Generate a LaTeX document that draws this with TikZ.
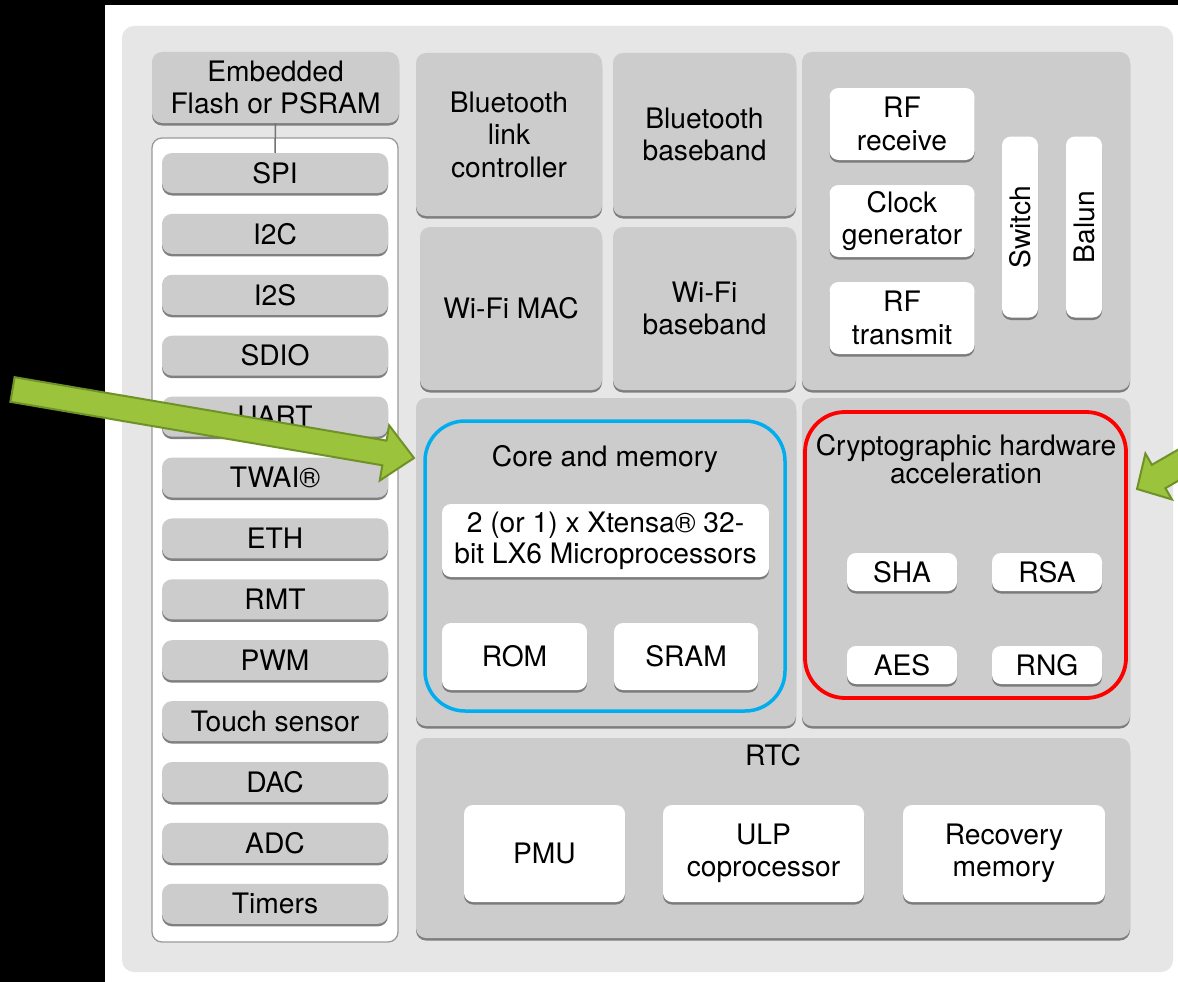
\documentclass[tikz,border=0pt]{standalone}
\usepackage{fontspec}
\setmainfont{TeX Gyre Heros}
\usetikzlibrary{calc,shadows}
\definecolor{outerbg}{HTML}{E6E6E6}
\definecolor{boxgray}{HTML}{CCCCCC}
\definecolor{cmblue}{HTML}{00AEEF}
\definecolor{cryred}{HTML}{FF0000}
\definecolor{arrgreen}{HTML}{9BC33C}
\definecolor{arredge}{HTML}{6F9128}
\definecolor{panelline}{HTML}{9A9A9A}
\begin{document}
\begin{tikzpicture}[x=1pt,y=-1pt,
  shd/.style={drop shadow={shadow xshift=0pt,shadow yshift=-2.5pt,fill=black!55,opacity=0.9}},
  lbl/.style={align=center,font=\fontsize{28.2}{32.5}\selectfont,inner sep=0pt,text=black},
  graybox/.style={lbl,fill=boxgray,rounded corners=10pt,shd},
  whitebox/.style={lbl,fill=white,rounded corners=9pt,shd},
  container/.style={fill=boxgray,rounded corners=10pt,shd,inner sep=0pt},
  sz/.style 2 args={minimum width=#1pt,minimum height=#2pt},
  greenarrow/.style={fill=arrgreen,draw=arredge,line width=2pt,line join=miter}
]
\useasboundingbox (0,0) rectangle (1178,982);
\clip (0,0) rectangle (1178,982);
% page background
\fill[white] (0,0) rectangle (1178,982);
\fill[black] (0,0) rectangle (105,982);
\fill[black] (0,0) rectangle (1178,5);
% chip outline
\node[fill=outerbg,rounded corners=12pt,inner sep=0pt,sz={1051}{946}] (chip) at (647.5,499) {};

% left column
\node[fill=white,draw=panelline,line width=1.3pt,rounded corners=10pt,inner sep=0pt,sz={246}{804}] (panel) at (275,540) {};
\node[graybox,sz={247}{71}] (emb) at (275.5,87.5) {Embedded\\Flash or PSRAM};
\foreach \t [count=\i from 0] in {SPI,I2C,I2S,SDIO,UART,TWAI®,ETH,RMT,PWM,Touch sensor,DAC,ADC,Timers}{
  \node[graybox,sz={226}{40}] (p\i) at (275,173+60.9*\i) {\t};
}
\draw[black!55,line width=1.5pt] (emb.south) -- (p0.north);

% wireless blocks
\node[graybox,sz={186}{163}] (btlc) at (509,134.5) {Bluetooth\\link\\controller};
\node[graybox,sz={183}{163}] (btbb) at (704.5,134.5) {Bluetooth\\baseband};
\node[graybox,sz={182}{163}] (wmac) at (511,308.5) {Wi-Fi MAC};
\node[graybox,sz={183}{163}] (wbb) at (704.5,308.5) {Wi-Fi\\baseband};

% RF block
\node[container,sz={328}{338}] (rf) at (966,221) {};
\node[whitebox,sz={145}{72}] (rfrx) at (902,124) {RF\\receive};
\node[whitebox,sz={145}{72}] (clk) at (902,221) {Clock\\generator};
\node[whitebox,sz={145}{72}] (rftx) at (902,318) {RF\\transmit};
\node[whitebox,sz={36}{181}] (sw) at (1020,227) {};
\node[lbl,rotate=90] (swt) at (sw.center) {Switch};
\node[whitebox,sz={36}{181}] (bal) at (1084,227) {};
\node[lbl,rotate=90] (balt) at (bal.center) {Balun};

% core and memory
\node[container,sz={380}{328}] (core) at (606,562) {};
\node[draw=cmblue,line width=3.5pt,rounded corners=40pt,inner sep=0pt,sz={360}{290}] (corehl) at (605,566) {};
\node[lbl,anchor=base] (corelbl) at (605,466) {Core and memory};
\node[whitebox,sz={327}{73},font=\fontsize{28.2}{31}\selectfont] (cpu) at (605.5,540.5) {2 (or 1) x Xtensa® 32-\\bit LX6 Microprocessors};
\node[whitebox,sz={145}{67}] (rom) at (514.5,656.5) {ROM};
\node[whitebox,sz={144}{67}] (sram) at (686,656.5) {SRAM};

% crypto
\node[container,sz={328}{328}] (cry) at (966,562) {};
\node[draw=cryred,line width=3.8pt,rounded corners=40pt,inner sep=0pt,sz={321}{286}] (cryhl) at (965.5,555) {};
\node[lbl,font=\fontsize{28.2}{26}\selectfont] (crylbl) at (966,459) {Cryptographic hardware\\acceleration};
\node[whitebox,sz={110}{38}] (sha) at (902,572) {SHA};
\node[whitebox,sz={110}{38}] (rsa) at (1047,572) {RSA};
\node[whitebox,sz={110}{38}] (aes) at (902,665) {AES};
\node[whitebox,sz={110}{38}] (rng) at (1047,665) {RNG};

% RTC
\node[container,sz={714}{200}] (rtc) at (773,838) {};
\node[lbl] (rtclbl) at (773,755) {RTC};
\node[whitebox,sz={161}{97}] (pmu) at (544.5,853.5) {PMU};
\node[whitebox,sz={201}{97}] (ulp) at (763.5,853.5) {ULP\\coprocessor};
\node[whitebox,sz={202}{97}] (rec) at (1004,853.5) {Recovery\\memory};

% green arrows
\coordinate (lt) at (12.5,389.5);
\coordinate (lp) at (414,458);
\coordinate (lb) at ($(lp)!30pt!(lt)$);
\draw[greenarrow] ($(lt)!12.5pt!90:(lp)$) -- ($(lb)!12.5pt!90:(lp)$) -- ($(lb)!28pt!90:(lp)$) -- (lp)
  -- ($(lb)!28pt!-90:(lp)$) -- ($(lb)!12.5pt!-90:(lp)$) -- ($(lt)!12.5pt!-90:(lp)$) -- cycle;
\coordinate (rt) at (1310,389);
\coordinate (rp) at (1137,489);
\coordinate (rb) at ($(rp)!25pt!(rt)$);
\draw[greenarrow] ($(rt)!13.5pt!90:(rp)$) -- ($(rb)!13.5pt!90:(rp)$) -- ($(rb)!26.5pt!90:(rp)$) -- (rp)
  -- ($(rb)!26.5pt!-90:(rp)$) -- ($(rb)!13.5pt!-90:(rp)$) -- ($(rt)!13.5pt!-90:(rp)$) -- cycle;
\end{tikzpicture}
\end{document}
